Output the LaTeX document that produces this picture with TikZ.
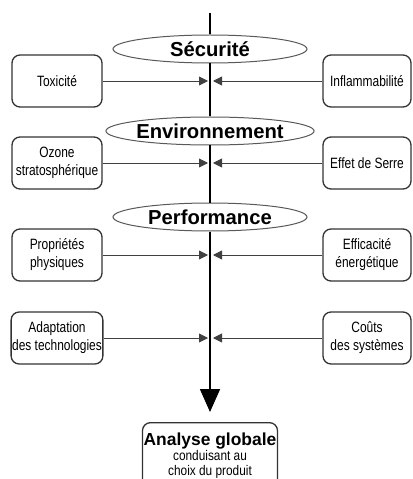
\documentclass[tikz,border=0pt]{standalone}
\usepackage{fontspec}
\setmainfont{Liberation Sans}
\newfontfamily\condfont[FakeStretch=0.8]{Liberation Sans}
\newfontfamily\smallcond[FakeStretch=0.85]{Liberation Sans}
\usetikzlibrary{arrows.meta,shapes.geometric}
\tikzset{
  crit/.style={ellipse, draw=black!65, line width=1bp, fill=white, inner sep=0pt,
    minimum width=194bp, minimum height=28bp,
    font=\bfseries\fontsize{20.3}{22}\selectfont},
  factor/.style={rectangle, rounded corners=8bp, draw=black!80, line width=1.3bp,
    minimum width=90bp, minimum height=52bp, inner sep=1bp, align=center,
    font=\condfont\fontsize{15}{18}\selectfont},
  rfactor/.style={factor, minimum width=88bp},
  feed/.style={draw=black!75, line width=0.9bp, -{Triangle[length=9bp,width=9bp]}},
  axis/.style={draw=black, line width=1.7bp},
  result/.style={rectangle, rounded corners=8bp, draw=black!80, line width=1.3bp,
    minimum width=135bp, minimum height=66bp, inner sep=1bp, align=center}
}
\begin{document}
\begin{tikzpicture}[x=1bp,y=-1bp]
\useasboundingbox (0,0) rectangle (412,479);
\begin{scope}
\clip (0,0) rectangle (412,479);
% criteria
\node[crit] (sec) at (210,49) {Sécurité};
\node[crit] (env) at (210,131) {Environnement};
\node[crit] (perf) at (210,217) {Performance};
% left factors
\node[factor] (tox) at (57,81) {Toxicité};
\node[factor] (ozo) at (57,163) {Ozone\\stratosphérique};
\node[factor] (pro) at (57,255) {Propriétés\\physiques};
\node[factor] (ada) at (57,338) {Adaptation\\des technologies};
% right factors
\node[rfactor] (inf) at (367,81) {Inflammabilité};
\node[rfactor] (eff) at (367,163) {Effet de Serre};
\node[rfactor] (ene) at (367,255) {Efficacité\\énergétique};
\node[rfactor] (cou) at (367,338) {Coûts\\des systèmes};
% result
\node[result, anchor=north] (res) at (210,422) {%
  {\bfseries\fontsize{17.5}{17.5}\selectfont Analyse globale}\\[0bp]
  {\smallcond\fontsize{14}{15}\selectfont conduisant au}\\[2.5bp]
  {\smallcond\fontsize{14}{15}\selectfont choix du produit}};
% axis
\coordinate (top) at (210,13);
\coordinate (tip) at (210,412);
\draw[axis] (top) -- (sec);
\draw[axis] (sec) -- (env);
\draw[axis] (env) -- (perf);
\draw[axis, -{Triangle[length=23bp,width=20bp]}] (perf) -- (tip);
% feed points
\coordinate (l1) at (208,81);  \coordinate (r1) at (213,81);
\coordinate (l2) at (208,163); \coordinate (r2) at (213,163);
\coordinate (l3) at (208,255); \coordinate (r3) at (213,255);
\coordinate (l4) at (208,338); \coordinate (r4) at (213,338);
\draw[feed] (tox) -- (l1);
\draw[feed] (inf) -- (r1);
\draw[feed] (ozo) -- (l2);
\draw[feed] (eff) -- (r2);
\draw[feed] (pro) -- (l3);
\draw[feed] (ene) -- (r3);
\draw[feed] (ada) -- (l4);
\draw[feed] (cou) -- (r4);
\end{scope}
\end{tikzpicture}
\end{document}
